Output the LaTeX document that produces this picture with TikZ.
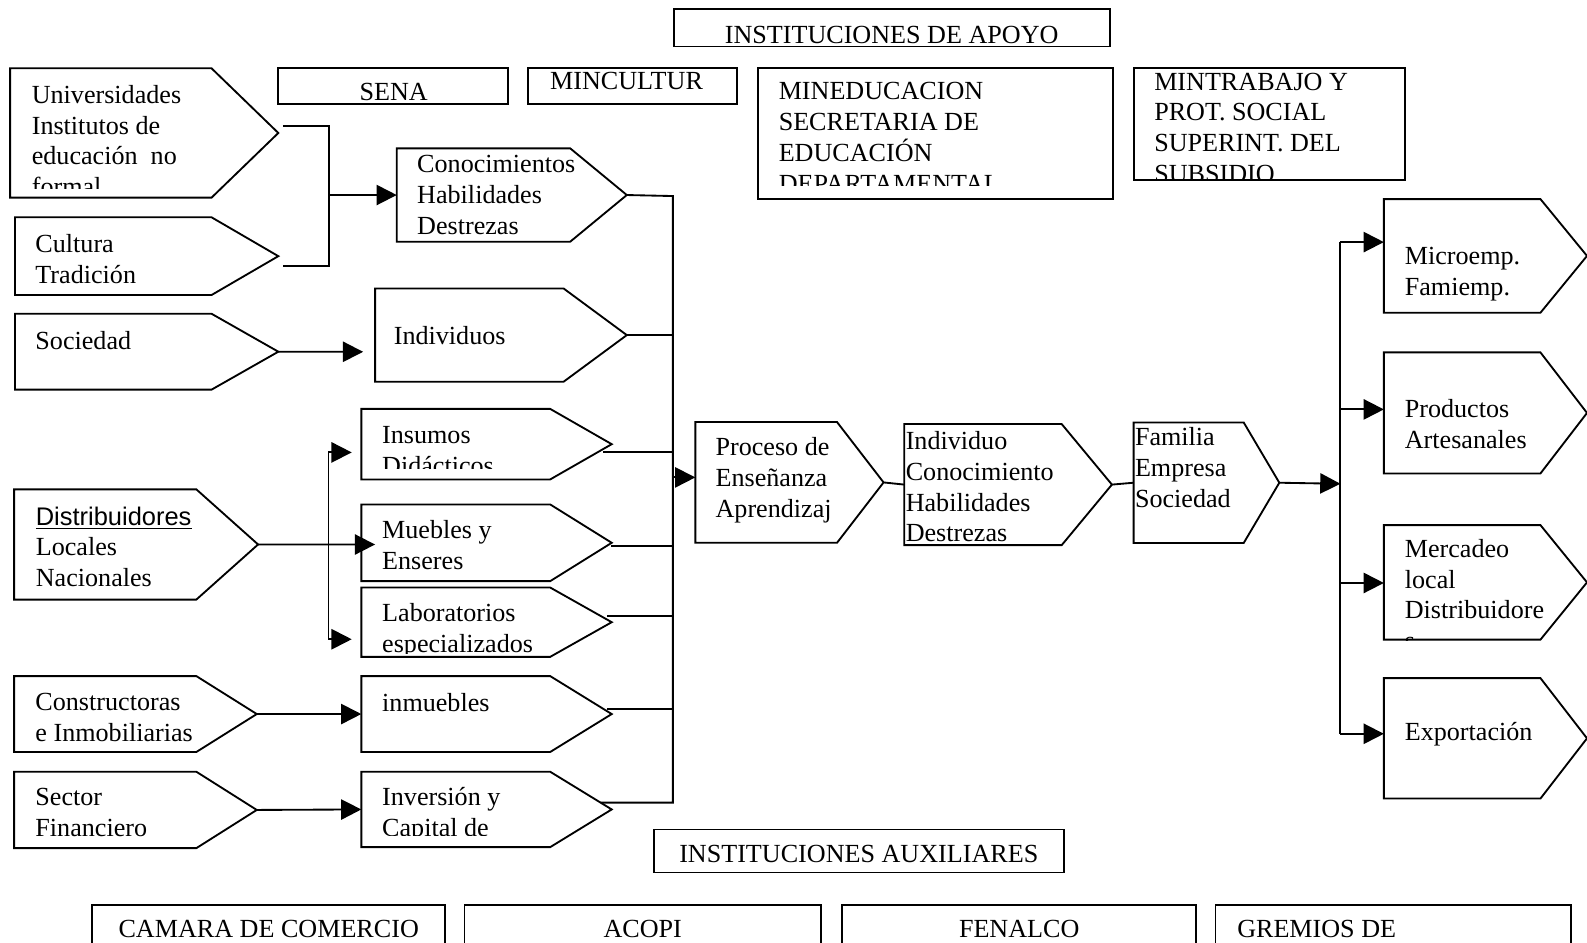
\documentclass[tikz,border=0pt]{standalone}
\usepackage{fontspec}
\setmainfont{Liberation Serif}
\setsansfont{Liberation Sans}
\usetikzlibrary{arrows.meta}

% pointed box: name, left, top, bottom, end of straight part, tip
\newcommand\pointbox[6]{%
  \draw[outline] (#2,#3) -- (#5,#3) -- (#6,{(#3+#4)/2}) -- (#5,#4) -- (#2,#4) -- cycle;
  \coordinate (#1-tip) at (#6,{(#3+#4)/2});
  \coordinate (#1-in) at (#2,{(#3+#4)/2});
}
% left-aligned lines of text: name, x, first baseline, list of lines
\newcommand\textlines[4]{%
  \foreach \t [count=\i] in {#4}{\node[txt] (#1-\i) at (#2,{#3+(\i-1)*30.5}) {\t};}
}

\begin{document}
\begin{tikzpicture}[x=0.4651pt,y=-0.4651pt,
  outline/.style={draw=black,line width=0.85pt,line join=miter},
  link/.style={draw=black,line width=0.85pt},
  feed/.style={link,-{Triangle[length=9.3pt,width=9.3pt]}},
  txt/.style={anchor=base west,inner sep=0pt,font=\fontsize{12}{13.8}\selectfont},
  ctxt/.style={txt,anchor=base},
]
\useasboundingbox (0,0) rectangle (1568,931);
\clip (0,0) rectangle (1568,931);

% ---------- supporting institutions ----------
\draw[outline] (666,9) rectangle (1097,46);
\node[ctxt] (apoyo) at (881,42.5) {INSTITUCIONES DE APOYO};
\draw[outline] (275,67) rectangle (502,102.5);
\node[ctxt] (sena) at (389,99.5) {SENA};
\draw[outline] (522,67) rectangle (728,102.5);
\node[ctxt] (mincultur) at (619,88.5) {MINCULTUR};
\draw[outline] (749,67) rectangle (1100,196.7);
\begin{scope}
  \clip (749,67) rectangle (1100,183.5);
  \textlines{mined}{769}{98.5}{MINEDUCACION,SECRETARIA DE,EDUCACIÓN,DEPARTAMENTAL.}
\end{scope}
\draw[outline] (1120,67) rectangle (1388.5,178);
\begin{scope}
  \clip (1120,67) rectangle (1388.5,176.5);
  \textlines{mintr}{1140}{89}{MINTRABAJO Y,PROT. SOCIAL,SUPERINT. DEL,SUBSIDIO}
\end{scope}

% ---------- sources (left column) ----------
\pointbox{univ}{10}{67.5}{195.3}{209}{275}
\begin{scope}
  \clip (10,67.5) rectangle (209,186);
  \textlines{univ}{31}{102}{Universidades,Institutos de,educación\ \ no,formal}
\end{scope}
\pointbox{cult}{14.8}{214.7}{291.5}{209}{275}
\textlines{cult}{34.6}{249.7}{Cultura,Tradición}
\pointbox{soc}{14.8}{310}{385}{209}{275}
\textlines{soc}{34.6}{345}{Sociedad}
\pointbox{dist}{14}{483.5}{592.4}{194}{255}
\textlines{dist}{35}{518.8}{{\fontsize{11.7}{13.8}\sffamily\underline{Distribuidores}},Locales,Nacionales}
\pointbox{cons}{14}{668}{743}{194}{253.7}
\textlines{cons}{34.6}{702}{Constructoras,e Inmobiliarias}
\pointbox{fin}{14}{762.5}{838}{194}{253.7}
\textlines{fin}{34.6}{795.5}{Sector,Financiero}

% ---------- resources (middle column) ----------
\pointbox{cono}{392}{146.6}{238.8}{563.4}{619.3}
\textlines{cono}{411.8}{170.5}{Conocimientos,Habilidades,Destrezas}
\pointbox{indiv}{370.6}{285}{377.2}{556.8}{619.3}
\textlines{indiv}{388.7}{340}{Individuos}
\pointbox{insu}{357}{404}{473.7}{543.6}{604.4}
\begin{scope}
  \clip (357,404) rectangle (543.6,463);
  \textlines{insu}{377.2}{438.5}{Insumos,Didácticos}
\end{scope}
\pointbox{mueb}{357}{498.4}{574.2}{543.6}{604.4}
\textlines{mueb}{377.2}{532}{Muebles y,Enseres}
\pointbox{lab}{357}{580.5}{649}{543.6}{604.4}
\begin{scope}
  \clip (357,580.5) rectangle (543.6,646);
  \textlines{lab}{377.2}{614.4}{Laboratorios,especializados}
\end{scope}
\pointbox{inm}{357}{668}{743}{543.6}{604.4}
\textlines{inm}{377.2}{702.5}{inmuebles}
\pointbox{inv}{357}{762.5}{837}{543.6}{604.4}
\begin{scope}
  \clip (357,762.5) rectangle (543.6,825.5);
  \textlines{inv}{377.2}{795.5}{Inversión y,Capital de}
\end{scope}

% ---------- process chain ----------
\pointbox{proc}{687}{417}{536.3}{827}{873}
\textlines{proc}{706.6}{450}{Proceso de,Enseñanza,Aprendizaj}
\pointbox{indv}{893.4}{419}{538.6}{1049}{1098.6}
\textlines{indv}{894.5}{444}{Individuo,Conocimiento,Habilidades,Destrezas}
\pointbox{fam}{1120}{417.4}{536.5}{1228.8}{1264}
\textlines{fam}{1121}{440.5}{Familia,Empresa,Sociedad}

% ---------- results (right column) ----------
\pointbox{micro}{1367.3}{196.7}{309}{1522}{1568}
\textlines{micro}{1387.6}{261.5}{Microemp.,Famiemp.}
\pointbox{prod}{1367.3}{348.2}{467.8}{1522}{1568}
\textlines{prod}{1387.6}{412.5}{Productos,Artesanales}
\pointbox{merc}{1367.3}{518.8}{632}{1522}{1568}
\begin{scope}
  \clip (1367.3,518.8) rectangle (1568,632.5);
  \textlines{merc}{1387.6}{550.5}{Mercadeo,local,Distribuidore,s}
\end{scope}
\pointbox{expo}{1367.3}{670}{789}{1522}{1568}
\textlines{expo}{1387.6}{732}{Exportación}

% ---------- auxiliary institutions ----------
\draw[outline] (646,819.5) rectangle (1051,862);
\node[ctxt] (aux) at (848.5,852.5) {INSTITUCIONES AUXILIARES};
\draw[outline] (91,894) rectangle (440,960);
\node[ctxt] (camara) at (265.5,926.5) {CAMARA DE COMERCIO};
\draw[outline] (459,894) rectangle (811,960);
\node[ctxt] (acopi) at (635,926.5) {ACOPI};
\draw[outline] (832,894) rectangle (1182,960);
\node[ctxt] (fenalco) at (1007,926.5) {FENALCO};
\draw[outline] (1201,894) rectangle (1552,960);
\node[txt] (gremios) at (1222,926.5) {GREMIOS DE};

% ---------- connectors: sources to resources ----------
\coordinate (univ-out) at (279.5,124.2);
\coordinate (cult-out) at (279.5,262.8);
\coordinate (kbus) at (325,192.7);
\draw[link] (univ-out) -| (kbus) |- (cult-out);
\draw[feed] (kbus) -- (cono-in);

\coordinate (indiv-feed) at (358.8,347.6);
\draw[feed] (soc-tip) -- (indiv-feed);

\coordinate (mueb-feed) at (370.6,538);
\draw[feed] (dist-tip) -- (mueb-feed);
\coordinate (dbus-t) at (324.5,447);
\coordinate (dbus-b) at (324.5,631.6);
\coordinate (insu-feed) at (347.5,447);
\coordinate (lab-feed) at (347.5,631.6);
\draw[link] (dbus-t) -- (dbus-b);
\draw[feed] (dbus-t) -- (insu-feed);
\draw[feed] (dbus-b) -- (lab-feed);

\draw[feed] (cons-tip) -- (inm-in);
\draw[feed] (fin-tip) -- (inv-in);

% ---------- connectors: resources to the process ----------
\coordinate (pbus-t) at (664.8,193.7);
\coordinate (pbus-b) at (664.8,793);
\coordinate (inv-out) at (593.4,793);
\draw[link] (cono-tip) -- (pbus-t) -- (pbus-b) -- (inv-out);
\draw[link] (indiv-tip) -- (indiv-tip -| pbus-t);
\coordinate (insu-out) at (596,447);
\draw[link] (insu-out) -- (insu-out -| pbus-t);
\coordinate (mueb-out) at (604,539.3);
\draw[link] (mueb-out) -- (mueb-out -| pbus-t);
\coordinate (lab-out) at (600,608.8);
\draw[link] (lab-out) -- (lab-out -| pbus-t);
\coordinate (inm-out) at (600,700.8);
\draw[link] (inm-out) -- (inm-out -| pbus-t);
\coordinate (proc-feed) at (664.8,471.7);
\draw[feed] (proc-feed) -- (proc-feed -| proc-in);

% ---------- connectors: process chain ----------
\draw[link] (proc-tip) -- (indv-in);
\draw[link] (indv-tip) -- (fam-in);
\coordinate (rbus-m) at (1324.4,478);
\draw[feed] (fam-tip) -- (rbus-m);
\coordinate (rbus-t) at (1323.8,239.2);
\coordinate (rbus-b) at (1323.8,725);
\draw[link] (rbus-t) -- (rbus-b);
\draw[feed] (rbus-t) -- (rbus-t -| micro-in);
\coordinate (prod-feed) at (1323.8,404.5);
\draw[feed] (prod-feed) -- (prod-feed -| prod-in);
\coordinate (merc-feed) at (1323.8,576);
\draw[feed] (merc-feed) -- (merc-feed -| merc-in);
\draw[feed] (rbus-b) -- (rbus-b -| expo-in);
\end{tikzpicture}
\end{document}
